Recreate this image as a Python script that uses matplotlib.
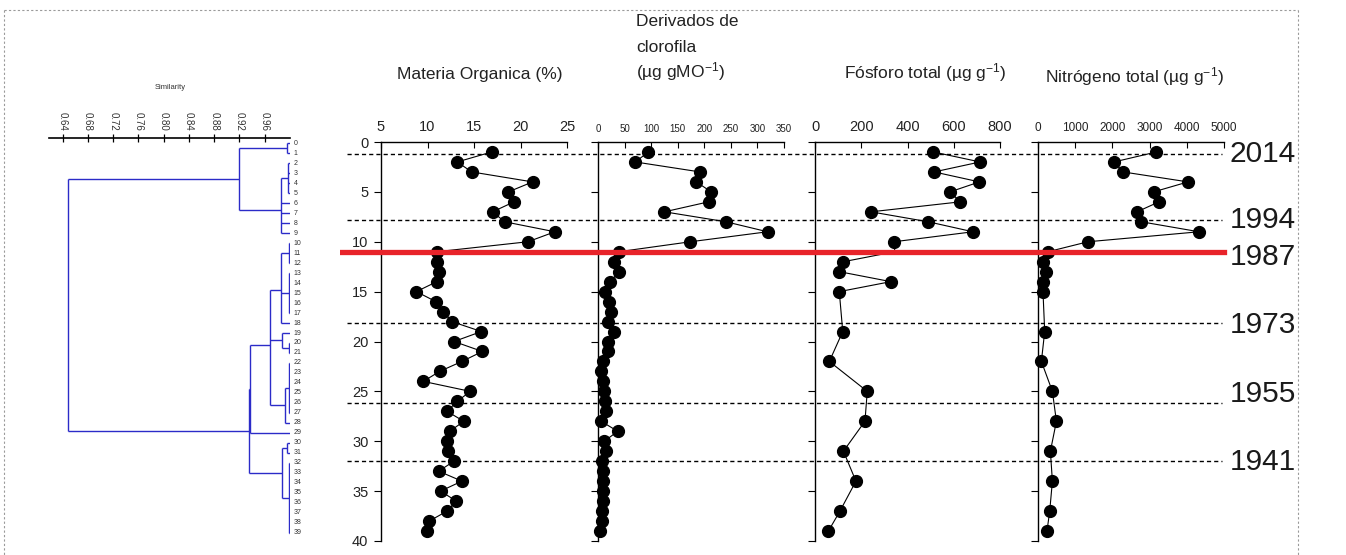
import matplotlib
matplotlib.use("Agg")
import matplotlib.pyplot as plt
from matplotlib.lines import Line2D
from matplotlib.transforms import blended_transform_factory

# ---------------- data ----------------
depth_all = list(range(1, 40))
materia_organica = [16.9, 13.2, 14.75, 21.3, 18.7, 19.3, 17.0, 18.3, 23.7, 20.8,
                    11.0, 11.0, 11.2, 11.0, 8.8, 10.9, 11.7, 12.6, 15.8, 12.85,
                    15.9, 13.7, 11.3, 9.55, 14.6, 13.2, 12.1, 13.9, 12.4, 12.1,
                    12.2, 12.85, 11.2, 13.7, 11.4, 13.1, 12.1, 10.2, 9.9]
clorofila = [95, 70, 192, 185, 213, 208, 125, 241, 319, 174,
             39, 31, 40, 23, 14, 20, 25, 18, 31, 18,
             18, 9, 6, 9, 12, 14, 15, 6, 37, 12,
             15, 8, 9, 9, 10, 10, 8, 8, 4]
depth_pn = [1, 2, 3, 4, 5, 6, 7, 8, 9, 10, 11, 12, 13, 14, 15, 19, 22, 25, 28, 31, 34, 37, 39]
fosforo = [512, 714, 515, 711, 584, 628, 242, 490, 683, 342, 345, 123, 105, 328, 105,
           120, 62, 226, 216, 123, 177, 108, 58]
nitrogeno = [3183, 2043, 2285, 4032, 3110, 3253, 2661, 2780, 4328, 1344, 269, 126, 226,
             134, 134, 180, 91, 387, 495, 333, 387, 315, 242]
fosforo_hidden_marker = [10]  # sample under the red line shows no marker

mo_ticks = [5, 10, 15, 20, 25]
chl_ticks = [0, 50, 100, 150, 200, 250, 300, 350]
p_ticks = [0, 200, 400, 600, 800]
n_ticks = [0, 1000, 2000, 3000, 4000, 5000]
depth_ticks = [0, 5, 10, 15, 20, 25, 30, 35, 40]

year_labels = ["2014", "1994", "1987", "1973", "1955", "1941"]
year_label_depths = [1.2, 7.8, 11.5, 18.3, 25.3, 32.1]
dashed_depths = [1.2, 7.8, 18.1, 26.2, 32.0]
red_depth = 11.0

# dendrogram (constrained clustering): leaves 0..39, merges (name, children, similarity)
leaf_labels = [str(i) for i in range(40)]
sim_ticks = [0.64, 0.68, 0.72, 0.76, 0.80, 0.84, 0.88, 0.92, 0.96]
dendro_merges = [
    ("c0_1", [0, 1], 0.996),
    ("c2_5", [2, 3, 4, 5], 0.997),
    ("c2_9", ["c2_5", 6, 7, 8, 9], 0.985),
    ("A", ["c0_1", "c2_9"], 0.920),
    ("c10_12", [10, 11, 12], 0.999),
    ("c13_17", [13, 14, 15, 16, 17], 0.998),
    ("X", ["c10_12", "c13_17", 18], 0.985),
    ("c20_21", [20, 21], 0.999),
    ("Wc", [19, "c20_21"], 0.987),
    ("c22_27", [22, 23, 24, 25, 26, 27], 0.998),
    ("V", ["c22_27", 28], 0.992),
    ("Y", ["X", "Wc", "V"], 0.969),
    ("B1", ["Y", 29], 0.936),
    ("c30_31", [30, 31], 0.996),
    ("c32_39", [32, 33, 34, 35, 36, 37, 38, 39], 0.998),
    ("B2", ["c30_31", "c32_39"], 0.987),
    ("B", ["B1", "B2"], 0.935),
    ("root", ["A", "B"], 0.648),
]

# ---------------- style ----------------
W, H = 1346, 555
plt.rcParams['font.family'] = ['Liberation Sans', 'DejaVu Sans']
plt.rcParams['mathtext.fontset'] = 'custom'
plt.rcParams['mathtext.rm'] = 'Liberation Sans'
plt.rcParams['mathtext.it'] = 'Liberation Sans:italic'
plt.rcParams['mathtext.bf'] = 'Liberation Sans:bold'
TXT = '#222222'

fig = plt.figure(figsize=(W / 100, H / 100), dpi=100)


def rect(x0, y0, x1, y1):
    return [x0 / W, 1 - y1 / H, (x1 - x0) / W, (y1 - y0) / H]


TOP, BOT = 142, 541
panels = [
    (381, 567, depth_all, materia_organica, (5, 25), mo_ticks, 10.5, True, []),
    (598, 784, depth_all, clorofila, (0, 350), chl_ticks, 7, False, []),
    (815, 1000, depth_pn, fosforo, (0, 800), p_ticks, 10.5, False, fosforo_hidden_marker),
    (1038, 1224, depth_pn, nitrogeno, (0, 5000), n_ticks, 8.5, False, []),
]
for x0, x1, dep, vals, xl, xt, fs, ylab, hidden in panels:
    ax = fig.add_axes(rect(x0, TOP, x1, BOT))
    ax.patch.set_alpha(0)
    shown = [i for i in range(len(vals)) if i not in hidden]
    ax.plot(vals, dep, '-', color='black', lw=0.8, marker='o', ms=8.5,
            mfc='black', mec='black', zorder=3, clip_on=False, markevery=shown)
    ax.set_xlim(*xl)
    ax.set_ylim(40, 0)
    for s in ('right', 'bottom'):
        ax.spines[s].set_visible(False)
    for s in ('left', 'top'):
        ax.spines[s].set_linewidth(1.0)
    ax.xaxis.tick_top()
    ax.set_xticks(xt)
    ax.tick_params(axis='x', direction='in', length=4, width=0.8,
                   labelsize=fs, pad=6, labelcolor=TXT)
    ax.set_yticks(depth_ticks)
    ax.tick_params(axis='y', direction='out', length=5, width=0.8,
                   labelsize=10.5, pad=4, labelcolor=TXT, labelleft=ylab)

# overlay: dashed horizons, red line, years
ov = fig.add_axes(rect(340, TOP, 1228, BOT))
ov.patch.set_alpha(0)
ov.set_xlim(0, 1)
ov.set_ylim(40, 0)
ov.axis('off')
for d in dashed_depths:
    ov.axhline(d, xmin=0.008, xmax=0.993, color='black', lw=1.0, ls=(0, (3, 2.2)), zorder=4)
ov.axhline(red_depth, xmin=0, xmax=0.996, color='#e8232a', lw=3.8, zorder=5)
tr = blended_transform_factory(ov.transAxes, ov.transData)
for lab, d in zip(year_labels, year_label_depths):
    ov.text(1.002, d, lab, transform=tr, ha='left', va='center', fontsize=21.5,
            color='#1a1a1a', clip_on=False)

# titles
fig.text(480 / W, 1 - 75 / H, 'Materia Organica (%)', ha='center', va='center', fontsize=12.5, color=TXT)
fig.text(636 / W, 1 - 22 / H, 'Derivados de', ha='left', va='center', fontsize=12.5, color=TXT)
fig.text(636 / W, 1 - 47 / H, 'clorofila', ha='left', va='center', fontsize=12.5, color=TXT)
fig.text(636 / W, 1 - 72 / H, r'(µg gMO$^{-1}$)', ha='left', va='center', fontsize=12.5, color=TXT)
fig.text(925 / W, 1 - 73 / H, r'Fósforo total (µg g$^{-1}$)', ha='center', va='center', fontsize=12.5, color=TXT)
fig.text(1134 / W, 1 - 77 / H, r'Nitrógeno total (µg g$^{-1}$)', ha='center', va='center', fontsize=12.5, color=TXT)

# dendrogram
axd = fig.add_axes(rect(49, 138, 290, BOT))
axd.patch.set_alpha(0)
axd.set_xlim(0.6183, 1.0)
axd.set_ylim(40, -0.4)
for s in ('right', 'bottom', 'left'):
    axd.spines[s].set_visible(False)
axd.spines['top'].set_linewidth(1.2)
axd.xaxis.tick_top()
axd.set_xticks(sim_ticks)
axd.set_xticklabels([f"{t:.2f}" for t in sim_ticks], rotation=270)
axd.tick_params(axis='x', direction='inout', length=6, width=0.9, labelsize=7, pad=2, labelcolor='#333')
axd.set_yticks([])

leaf_offset = 0.15
pos = {i: (1.0, i + leaf_offset) for i in range(len(leaf_labels))}
DCOL = '#2b2bc8'
for name, children, s in dendro_merges:
    ys = []
    for c in children:
        cx, cy = pos[c]
        axd.plot([cx, s], [cy, cy], color=DCOL, lw=1.0, solid_capstyle='butt')
        ys.append(cy)
    axd.plot([s, s], [min(ys), max(ys)], color=DCOL, lw=1.0, solid_capstyle='butt')
    pos[name] = (s, sum(ys) / len(ys))
for i, lab in enumerate(leaf_labels):
    axd.text(1.006, i + leaf_offset, lab, fontsize=5, ha='left', va='center', color='#333', clip_on=False)
fig.text(170 / W, 1 - 88 / H, 'Similarity', ha='center', va='center', fontsize=5.5, color='#333')

# dotted frame
fc = '#9a9a9a'
for xs, ys in [([4, 1298], [10, 10]), ([1298, 1298], [10, 555]), ([4, 4], [10, 555])]:
    fig.add_artist(Line2D([x / W for x in xs], [1 - y / H for y in ys], transform=fig.transFigure,
                          color=fc, lw=0.8, ls=(0, (2, 2))))

fig.savefig('out.png', dpi=100)
